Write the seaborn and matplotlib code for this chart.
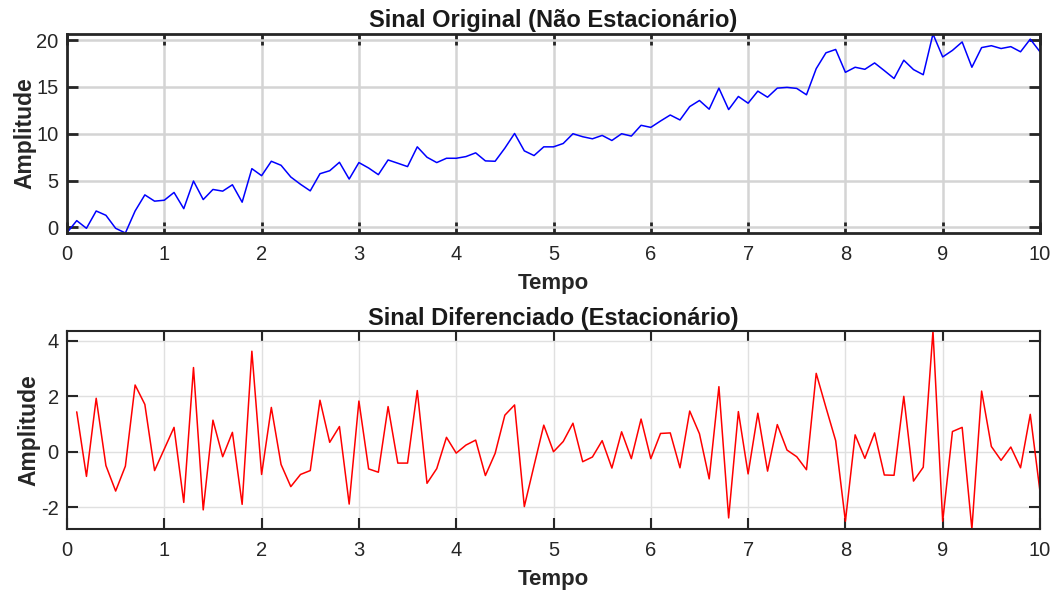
import numpy as np
import pandas as pd
import matplotlib
matplotlib.use("Agg")
import matplotlib.pyplot as plt
import seaborn as sns

# Time axis shared by both panels
tempo = [round(0.1 * i, 1) for i in range(101)]

# Original (non-stationary) signal
sinal_original = [
    -0.57, 0.72, -0.10, 1.75, 1.29, -0.10, -0.60, 1.75, 3.47, 2.80,
    2.90, 3.73, 2.00, 4.95, 2.97, 4.05, 3.87, 4.55, 2.69, 6.27,
    5.52, 7.06, 6.63, 5.38, 4.60, 3.90, 5.73, 6.05, 6.95, 5.16,
    6.92, 6.34, 5.63, 7.20, 6.85, 6.49, 8.60, 7.49, 6.92, 7.38,
    7.38, 7.56, 7.96, 7.10, 7.06, 8.46, 10.03, 8.17, 7.67, 8.60,
    8.60, 8.96, 10.00, 9.68, 9.46, 9.82, 9.28, 10.00, 9.75, 10.90,
    10.68, 11.36, 12.00, 11.47, 12.90, 13.55, 12.62, 14.87, 12.58, 13.98,
    13.26, 14.55, 13.90, 14.87, 14.95, 14.84, 14.16, 16.95, 18.64, 19.00,
    16.56, 17.10, 16.88, 17.56, 16.74, 15.90, 17.85, 16.85, 16.30, 20.65,
    18.20, 18.90, 19.80, 17.10, 19.20, 19.40, 19.10, 19.30, 18.75, 20.10,
    18.75,
]

# Differenced (stationary) signal, starting at t = 0.1
sinal_diferenciado = [
    1.44, -0.89, 1.93, -0.50, -1.42, -0.52, 2.41, 1.71, -0.68, 0.10,
    0.88, -1.83, 3.04, -2.10, 1.14, -0.18, 0.70, -1.90, 3.63, -0.82,
    1.60, -0.46, -1.26, -0.82, -0.68, 1.86, 0.34, 0.91, -1.89, 1.83,
    -0.62, -0.74, 1.63, -0.41, -0.41, 2.21, -1.14, -0.61, 0.52, -0.05,
    0.24, 0.42, -0.86, -0.06, 1.32, 1.69, -1.98, -0.50, 0.96, 0.00,
    0.37, 1.03, -0.36, -0.19, 0.40, -0.59, 0.72, -0.25, 1.18, -0.25,
    0.66, 0.68, -0.58, 1.47, 0.65, -0.98, 2.35, -2.39, 1.45, -0.80,
    1.39, -0.70, 0.98, 0.06, -0.18, -0.65, 2.83, 1.60, 0.40, -2.51,
    0.61, -0.24, 0.68, -0.84, -0.85, 2.00, -1.06, -0.56, 4.36, -2.51,
    0.73, 0.88, -2.79, 2.19, 0.19, -0.31, 0.17, -0.58, 1.35, -1.44,
]

titulos = ["Sinal Original (Não Estacionário)", "Sinal Diferenciado (Estacionário)"]
xticks = list(range(0, 11))
yticks_top = [0, 5, 10, 15, 20]
yticks_bottom = [-2, 0, 2, 4]

sns.set_style("white")
plt.rcParams["font.family"] = ["Liberation Sans", "DejaVu Sans"]
plt.rcParams["axes.unicode_minus"] = False

df_top = pd.DataFrame({"Tempo": tempo, "Amplitude": sinal_original})
df_bot = pd.DataFrame({"Tempo": tempo[1:], "Amplitude": sinal_diferenciado})

W, H = 1057, 594
fig = plt.figure(figsize=(W / 100, H / 100), dpi=100)
ax1 = fig.add_axes([67 / W, 1 - 233 / H, 973 / W, 199 / H])
ax2 = fig.add_axes([67 / W, 1 - 529 / H, 973 / W, 198 / H])

TXT = "#262626"


def style_axes(ax, grid_lw, grid_color, spine_lw, tick_w):
    ax.set_xlim(0, 10)
    ax.set_xticks(xticks)
    ax.grid(True, color=grid_color, linewidth=grid_lw, zorder=0)
    ax.set_axisbelow(True)
    for s in ax.spines.values():
        s.set_visible(True)
        s.set_color(TXT)
        s.set_linewidth(spine_lw)
    ax.tick_params(direction="in", length=8, width=tick_w, colors=TXT,
                   labelsize=14.5, labelcolor=TXT,
                   top=True, right=True, bottom=True, left=True)
    ax.tick_params(axis="x", pad=9)
    ax.tick_params(axis="y", pad=6)
    ax.set_xlabel("Tempo", fontsize=16, fontweight="bold", color=TXT, labelpad=6)
    ax.set_ylabel("Amplitude", fontsize=16.5, fontweight="bold", color=TXT, labelpad=0)


sns.lineplot(data=df_top, x="Tempo", y="Amplitude", ax=ax1, color="#0000ff", linewidth=1.1)
ax1.set_ylim(min(sinal_original), max(sinal_original))
ax1.set_yticks(yticks_top)
style_axes(ax1, 1.8, "#d4d4d4", 2.0, 2.0)
ax1.set_title(titulos[0], fontsize=17, fontweight="bold", color="#1a1a1a", pad=5)

sns.lineplot(data=df_bot, x="Tempo", y="Amplitude", ax=ax2, color="#ff0000", linewidth=1.1)
ax2.set_ylim(min(sinal_diferenciado), max(sinal_diferenciado))
ax2.set_yticks(yticks_bottom)
style_axes(ax2, 1.0, "#e0e0e0", 1.5, 1.5)
ax2.set_title(titulos[1], fontsize=17, fontweight="bold", color="#1a1a1a", pad=4)

fig.savefig("out.png", dpi=100, facecolor="white")
